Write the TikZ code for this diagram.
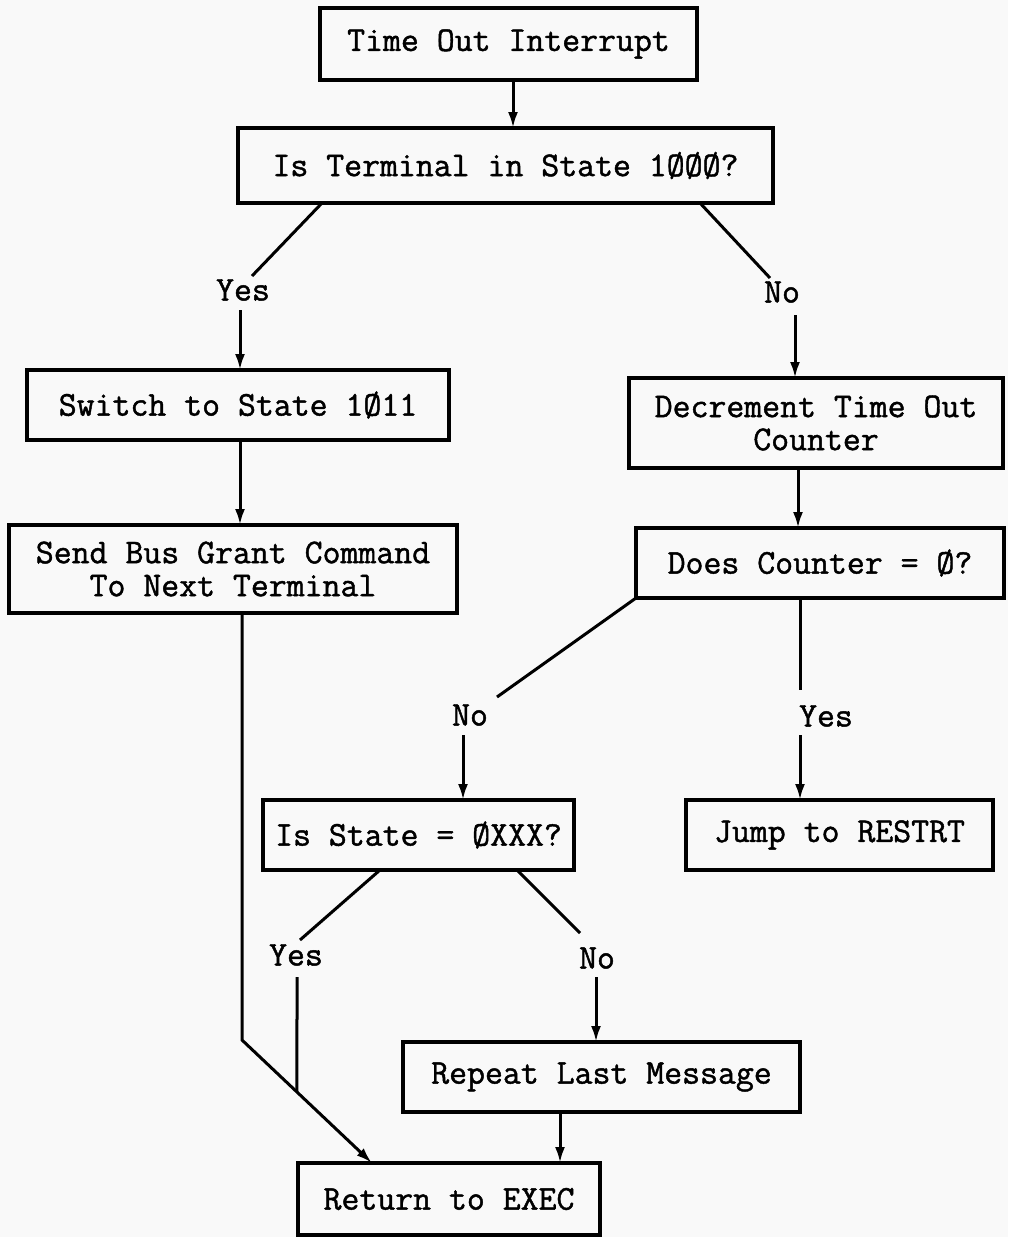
\documentclass[tikz,border=0pt]{standalone}
\usepackage{fontspec}
\setmonofont{Latin Modern Mono}[FakeBold=1.3]
\usetikzlibrary{arrows.meta,calc}
\begin{document}
\begin{tikzpicture}[x=0.5pt,y=-0.5pt,
  every node/.style={font=\fontsize{17.4pt}{16.5pt}\selectfont\ttfamily, text=black},
  box/.style 2 args={draw, line width=1.8pt, inner sep=0pt, outer sep=0pt, align=center,
    minimum width=#1*0.5pt, minimum height=#2*0.5pt},
  lbl/.style={inner sep=1pt},
  ln/.style={line width=1.5pt},
  arr/.style={line width=1.5pt, -{Latex[length=8pt,width=5pt]}}]
\fill[gray!5] (0,0) rectangle (1008,1237);
\useasboundingbox (0,0) rectangle (1008,1237);
% boxes
\node[box={377}{72}] (t1) at (508.5,44) {Time Out Interrupt};
\node[box={535}{75}] (t2) at (505.5,165.5) {Is Terminal in State 1ØØØ?};
\node[box={422}{70}] (sw) at (238,405) {Switch to State 1Ø11};
\node[box={374}{90}] (dec) at (816,423) {Decrement Time Out\\Counter};
\node[box={448}{88}] (send) at (233,569) {Send Bus Grant Command\\To Next Terminal};
\node[box={368}{70}] (cnt) at (820,563) {Does Counter = Ø?};
\node[box={311}{70}] (st) at (418.5,835) {Is State = ØXXX?};
\node[box={307}{70}] (jmp) at (839.5,835) {Jump to RESTRT};
\node[box={397}{70}] (rep) at (601.5,1077) {Repeat Last Message};
\node[box={302}{72}] (ret) at (449,1199) {Return to EXEC};
% labels
\node[lbl] (yes1) at (243,290) {Yes};
\node[lbl] (no1) at (782,292) {No};
\node[lbl] (no2) at (470,715) {No};
\node[lbl] (yes2) at (826,716) {Yes};
\node[lbl] (yes3) at (296,955) {Yes};
\node[lbl] (no3) at (597,958) {No};
% connectors
\draw[arr] ($(t1.south)+(4.5,0)$) coordinate (p1) -- (p1 |- t2.north);
\draw[ln] ($(t2.south west)+(84,0)$) -- ($(yes1)+(9,-14)$);
\draw[arr] ($(yes1)+(-3,20)$) coordinate (p2) -- (p2 |- sw.north);
\draw[ln] ($(t2.south east)+(-73,0)$) -- ($(no1)+(-12,-14)$);
\draw[arr] ($(no1)+(13,23)$) coordinate (p3) -- (p3 |- dec.north);
\draw[arr] ($(sw.south)+(2,0)$) coordinate (p4) -- (p4 |- send.north);
\draw[arr] ($(dec.south)+(-18,0)$) coordinate (p5) -- (p5 |- cnt.north);
\draw[ln] (cnt.south west) -- ($(no2)+(27,-18)$);
\draw[arr] ($(no2)+(-7,20)$) coordinate (p6) -- (p6 |- st.north);
\draw[ln] ($(cnt.south)+(-20,0)$) coordinate (p7) -- ($(p7)+(0,92)$);
\draw[arr] ($(yes2)+(-26,19)$) coordinate (p8) -- (p8 |- jmp.north);
\draw[ln] ($(st.south west)+(117,0)$) -- ($(yes3)+(4,-15)$);
\draw[ln] ($(st.south west)+(254,0)$) -- ($(no3)+(-17,-25)$);
\draw[arr] ($(no3)+(-1,19)$) coordinate (p9) -- (p9 |- rep.north);
\draw[arr] ($(send.south)+(9,0)$) coordinate (d1) -- (242,1040) coordinate (d2) -- ($(ret.north west)+(74,0)$) coordinate (d3);
\draw[ln] ($(yes3)+(1,22)$) coordinate (p10) -- ($(d2)!0.423!(d3)$);
\draw[arr] ($(rep.south west)+(157,0)$) coordinate (p11) -- (p11 |- ret.north);
\end{tikzpicture}
\end{document}
